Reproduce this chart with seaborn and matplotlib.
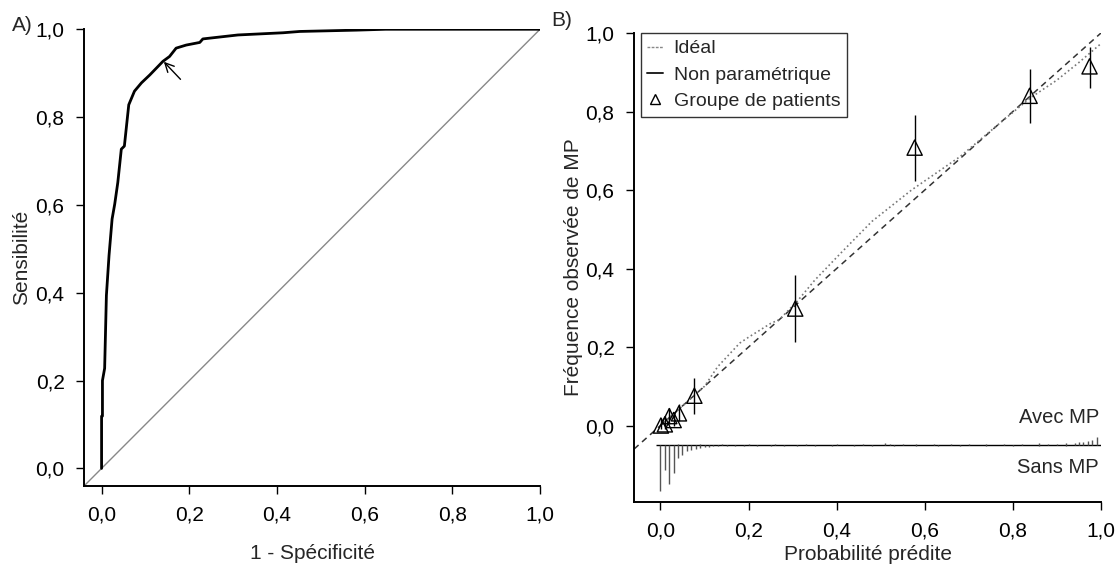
import matplotlib
matplotlib.use("Agg")
import matplotlib.pyplot as plt
from matplotlib.lines import Line2D
import seaborn as sns
import pandas as pd

# ROC curve (panel A)
roc_fpr = [0.0, 0.0, 0.002, 0.002, 0.007, 0.011, 0.017, 0.024, 0.030, 0.037, 0.045, 0.052,
           0.062, 0.075, 0.091, 0.110, 0.140, 0.155, 0.170, 0.193, 0.224, 0.231, 0.311,
           0.414, 0.452, 0.582, 0.648, 1.0]
roc_tpr = [0.0, 0.119, 0.119, 0.200, 0.228, 0.394, 0.485, 0.568, 0.602, 0.651, 0.727, 0.734,
           0.828, 0.859, 0.878, 0.896, 0.927, 0.938, 0.957, 0.964, 0.970, 0.978, 0.987,
           0.992, 0.995, 0.998, 1.0, 1.0]
arrow_tip = (0.142, 0.926)
arrow_tail = (0.180, 0.886)

# Calibration (panel B)
np_x = [0.0, 0.03, 0.06, 0.10, 0.13, 0.18, 0.20, 0.25, 0.27, 0.31, 0.35, 0.41, 0.48, 0.57,
        0.68, 0.77, 0.84, 0.90, 0.95, 1.0]
np_y = [0.0, 0.03, 0.06, 0.10, 0.15, 0.21, 0.225, 0.26, 0.27, 0.316, 0.37, 0.44, 0.52, 0.60,
        0.685, 0.77, 0.835, 0.88, 0.925, 0.973]

grp_x = [0.001, 0.010, 0.020, 0.030, 0.042, 0.077, 0.306, 0.577, 0.838, 0.974]
grp_y = [0.000, 0.003, 0.024, 0.014, 0.031, 0.076, 0.298, 0.708, 0.840, 0.915]
grp_lo = [-0.01, -0.01, 0.005, 0.0, 0.012, 0.030, 0.212, 0.622, 0.770, 0.860]
grp_hi = [0.02, 0.025, 0.045, 0.035, 0.055, 0.120, 0.384, 0.790, 0.908, 0.965]

# spike histogram of predicted probabilities
rug_base = -0.049
sans_x = [0.00, 0.01, 0.02, 0.03, 0.04, 0.05, 0.06, 0.07, 0.08, 0.09, 0.10, 0.11, 0.12, 0.13,
          0.15, 0.17, 0.19, 0.22, 0.25, 0.28, 0.31, 0.35, 0.39, 0.44, 0.48, 0.53, 0.58, 0.63,
          0.68, 0.74, 0.80, 0.86, 0.92]
sans_len = [0.119, 0.064, 0.099, 0.071, 0.034, 0.026, 0.017, 0.013, 0.010, 0.008, 0.006, 0.005,
            0.004, 0.004, 0.003, 0.003, 0.003, 0.002, 0.002, 0.002, 0.002, 0.002, 0.002, 0.002,
            0.002, 0.002, 0.002, 0.002, 0.002, 0.002, 0.002, 0.002, 0.002]
avec_x = [0.04, 0.09, 0.14, 0.20, 0.26, 0.33, 0.40, 0.46, 0.51, 0.52, 0.55, 0.58, 0.62, 0.66,
          0.70, 0.74, 0.78, 0.82, 0.86, 0.88, 0.90, 0.92, 0.94, 0.95, 0.96, 0.97, 0.98, 0.99]
avec_len = [0.002, 0.002, 0.002, 0.002, 0.002, 0.002, 0.002, 0.002, 0.005, 0.003, 0.003, 0.003,
            0.002, 0.002, 0.002, 0.002, 0.002, 0.003, 0.004, 0.003, 0.003, 0.004, 0.005, 0.006,
            0.008, 0.010, 0.012, 0.021]

sns.set_style("ticks")
plt.rcParams['font.family'] = ['Liberation Sans', 'DejaVu Sans']
plt.rcParams['axes.linewidth'] = 1.4
plt.rcParams['xtick.major.size'] = 6
plt.rcParams['ytick.major.size'] = 6
plt.rcParams['xtick.major.width'] = 1
plt.rcParams['ytick.major.width'] = 1
plt.rcParams['xtick.color'] = 'black'
plt.rcParams['ytick.color'] = 'black'
plt.rcParams['axes.edgecolor'] = 'black'

fig = plt.figure(figsize=(11.19, 5.67), dpi=100)
axA = fig.add_axes([0.0751, 0.1429, 0.4075, 0.8055])
axB = fig.add_axes([0.5666, 0.1152, 0.4173, 0.8266])

ticks = [0.0, 0.2, 0.4, 0.6, 0.8, 1.0]
tick_lbl = ['0,0', '0,2', '0,4', '0,6', '0,8', '1,0']
fs = 15

# ---- Panel A
roc = pd.DataFrame({'fpr': roc_fpr, 'tpr': roc_tpr})
axA.plot([-0.04, 1.0], [-0.04, 1.0], color='#888888', lw=1.0)
sns.lineplot(data=roc, x='fpr', y='tpr', ax=axA, color='black', lw=2.0, sort=False,
             estimator=None)
axA.annotate('', xy=arrow_tip, xytext=arrow_tail,
             arrowprops=dict(arrowstyle='->', lw=1.0, color='black', mutation_scale=16,
                             shrinkA=0, shrinkB=0))
axA.set_xlim(-0.04, 1.0)
axA.set_ylim(-0.04, 1.0)
axA.set_xticks(ticks)
axA.set_xticklabels(tick_lbl)
axA.set_yticks(ticks)
axA.set_yticklabels(tick_lbl)
axA.tick_params(labelsize=fs, pad=8)
axA.set_xlabel('1 - Spécificité', fontsize=fs)
axA.set_ylabel('Sensibilité', fontsize=fs)
axA.yaxis.set_label_coords(-0.116, 0.5)
axA.xaxis.set_label_coords(0.5, -0.127)
sns.despine(ax=axA)
fig.text(0.011, 0.955, 'A)', fontsize=fs, va='center', ha='left')

# ---- Panel B
axB.plot([-0.06, 1.0], [-0.06, 1.0], color='#333333', lw=1.1, ls=(0, (4, 3)))
calib = pd.DataFrame({'x': np_x, 'y': np_y})
sns.lineplot(data=calib, x='x', y='y', ax=axB, color='#777777', lw=1.2, ls=':',
             sort=False, estimator=None)
axB.vlines(grp_x, grp_lo, grp_hi, color='black', lw=1.0)
grp = pd.DataFrame({'x': grp_x, 'y': grp_y})
sns.scatterplot(data=grp, x='x', y='y', ax=axB, marker='^', s=120, facecolor='none',
                edgecolor='black', linewidth=1.0, zorder=5)

axB.hlines(rug_base, -0.01, 1.0, color='black', lw=1.0)
axB.vlines(sans_x, [rug_base - v for v in sans_len], rug_base, color='#555555', lw=1.0)
axB.vlines(avec_x, rug_base, [rug_base + v for v in avec_len], color='#555555', lw=1.0)
axB.text(0.995, 0.02, 'Avec MP', fontsize=14.5, ha='right', va='center')
axB.text(0.995, -0.108, 'Sans MP', fontsize=14.5, ha='right', va='center')

axB.set_xlim(-0.06, 1.0)
axB.set_ylim(-0.194, 1.0)
axB.set_xticks(ticks)
axB.set_xticklabels(tick_lbl)
axB.set_yticks(ticks)
axB.set_yticklabels(tick_lbl)
axB.tick_params(labelsize=fs, pad=8)
axB.set_xlabel('Probabilité prédite', fontsize=fs)
axB.set_ylabel('Fréquence observée de MP', fontsize=fs)
axB.yaxis.set_label_coords(-0.109, 0.5)
axB.xaxis.set_label_coords(0.5, -0.092)
sns.despine(ax=axB)
fig.text(0.493, 0.964, 'B)', fontsize=fs, va='center', ha='left')

handles = [Line2D([], [], color='#888888', lw=1.0, ls=(0, (2, 1))),
           Line2D([], [], color='#222222', lw=1.4),
           Line2D([], [], color='black', marker='^', ls='none', markersize=7,
                  markerfacecolor='none', markeredgewidth=1.0)]
leg = axB.legend(handles, ['Idéal', 'Non paramétrique', 'Groupe de patients'],
                 loc='upper left', bbox_to_anchor=(0.014, 1.0), fontsize=14,
                 handlelength=0.8, handletextpad=0.55, borderpad=0.35, labelspacing=0.45,
                 frameon=True, fancybox=False, borderaxespad=0)
leg.get_frame().set_edgecolor('black')
leg.get_frame().set_linewidth(1.0)

fig.savefig('out.png', dpi=100)
